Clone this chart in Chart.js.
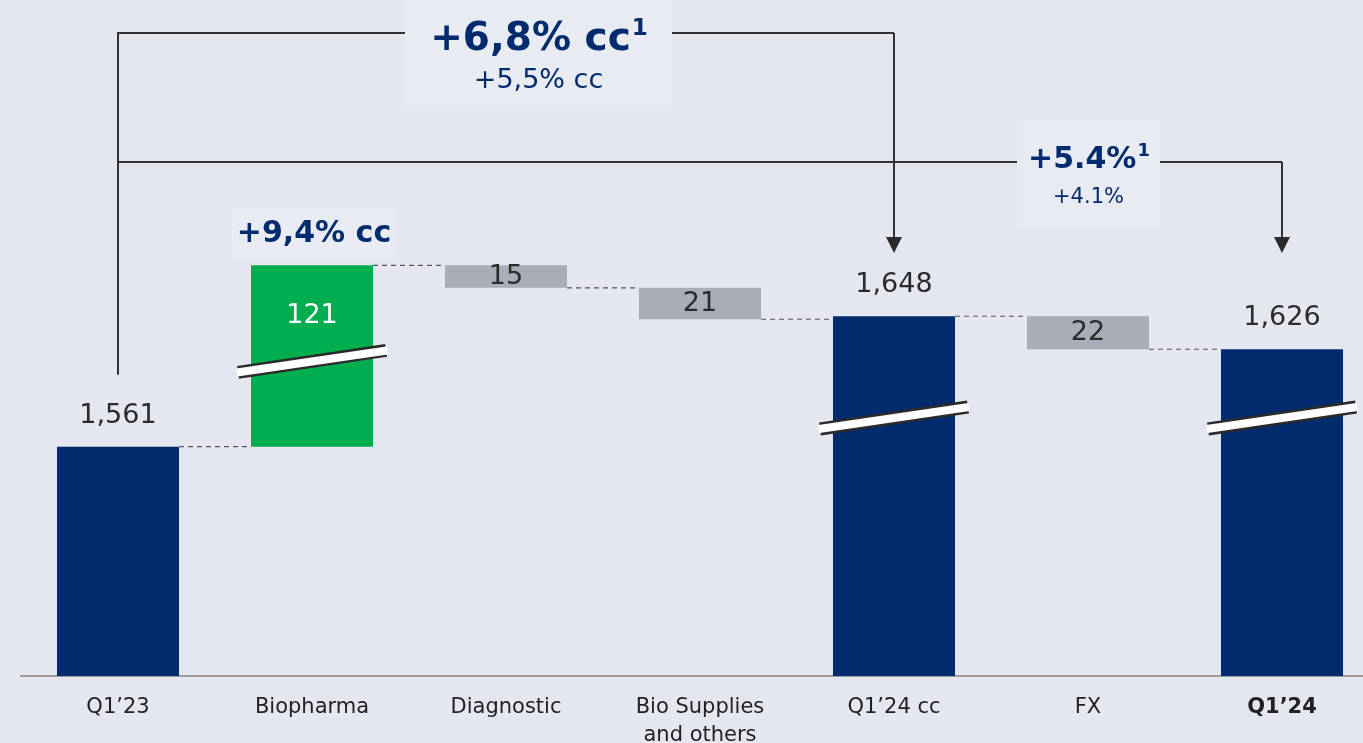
<!DOCTYPE html>
<html lang="en">
<head>
  <meta charset="UTF-8" />
  <title>Revenue bridge Q1'23 - Q1'24</title>
  <script src="https://cdn.jsdelivr.net/npm/chart.js"></script>
  <style>
    html, body {
      margin: 0;
      padding: 0;
      background: #e4e7ef;
      overflow: hidden;
    }
    #wrap {
      width: 1379px;
      height: 743px;
    }
  </style>
</head>
<body>
  <div id="wrap">
    <canvas id="bridge" width="1379" height="743"></canvas>
  </div>

  <script>
    // categories and values
    const categories = ['Q1’23', 'Biopharma', 'Diagnostic', ['Bio Supplies', 'and others'], 'Q1’24 cc', 'FX', 'Q1’24'];
    const values = [1561, 121, -15, -21, 1648, -22, 1626];
    const kinds = ['total', 'up', 'down', 'down', 'total', 'down', 'total'];
    const valueLabels = ['1,561', '121', '15', '21', '1,648', '22', '1,626'];

    const yMin = 1408;
    const yMax = 1859;

    const NAVY = '#022b6d';
    const GREEN = '#00ad4f';
    const GREY = '#a9adb8';
    const TEXT = '#2b2b2b';
    const FONT = '"DejaVu Sans", "Open Sans", sans-serif';

    // floating ranges for the waterfall
    let running = 0;
    const ranges = values.map((v, i) => {
      if (kinds[i] === 'total') {
        running = v;
        return [yMin, v];
      }
      const start = running;
      running = running + v;
      return [start, running];
    });
    const colors = kinds.map(k => k === 'total' ? NAVY : (k === 'up' ? GREEN : GREY));

    function arrowDown(ctx, x, yFrom, yTip) {
      ctx.beginPath();
      ctx.moveTo(x, yFrom);
      ctx.lineTo(x, yTip - 14);
      ctx.stroke();
      ctx.beginPath();
      ctx.moveTo(x - 8, yTip - 16);
      ctx.lineTo(x + 8, yTip - 16);
      ctx.lineTo(x, yTip);
      ctx.closePath();
      ctx.fill();
    }

    function breakMark(ctx, left, right, yMid) {
      const x1 = left - 13, x2 = right + 13;
      const rise = 11;
      ctx.save();
      ctx.lineWidth = 13;
      ctx.strokeStyle = '#2a2a2a';
      ctx.beginPath();
      ctx.moveTo(x1, yMid + rise);
      ctx.lineTo(x2, yMid - rise);
      ctx.stroke();
      ctx.lineWidth = 8;
      ctx.strokeStyle = '#ffffff';
      ctx.beginPath();
      ctx.moveTo(x1 - 1, yMid + rise);
      ctx.lineTo(x2 + 1, yMid - rise);
      ctx.stroke();
      ctx.restore();
    }

    function headBox(ctx, x0, y0, w, h, big, small, bigSize, smallSize, bigY, smallY) {
      ctx.fillStyle = '#e8ebf2';
      ctx.fillRect(x0, y0, w, h);
      const cx = x0 + w / 2;
      ctx.fillStyle = NAVY;
      ctx.textBaseline = 'middle';
      ctx.font = 'bold ' + bigSize + 'px ' + FONT;
      const bw = ctx.measureText(big).width;
      ctx.font = 'bold ' + Math.round(bigSize * 0.6) + 'px ' + FONT;
      const sw = ctx.measureText('1').width;
      const startX = cx - (bw + sw) / 2;
      ctx.textAlign = 'left';
      ctx.font = 'bold ' + bigSize + 'px ' + FONT;
      ctx.fillText(big, startX, bigY);
      ctx.font = 'bold ' + Math.round(bigSize * 0.6) + 'px ' + FONT;
      ctx.fillText('1', startX + bw + 1, bigY - bigSize * 0.28);
      ctx.textAlign = 'center';
      ctx.font = smallSize + 'px ' + FONT;
      ctx.fillText(small, cx, smallY);
    }

    const annotations = {
      id: 'annotations',
      afterDatasetsDraw(chart) {
        const ctx = chart.ctx;
        const meta = chart.getDatasetMeta(0);
        const y = chart.scales.y;
        const bars = meta.data;

        ctx.save();

        // dashed connectors
        ctx.strokeStyle = '#555';
        ctx.lineWidth = 1.2;
        ctx.setLineDash([5, 4]);
        for (let i = 0; i < bars.length - 1; i++) {
          const level = y.getPixelForValue(ranges[i][1]);
          const a = bars[i], b = bars[i + 1];
          ctx.beginPath();
          ctx.moveTo(a.x + a.width / 2, level);
          ctx.lineTo(b.x - b.width / 2, level);
          ctx.stroke();
        }
        ctx.setLineDash([]);

        // break marks
        const bp = bars[1];
        breakMark(ctx, bp.x - bp.width / 2, bp.x + bp.width / 2, bp.y + (bp.base - bp.y) * 0.53);
        [4, 6].forEach(i => {
          const b = bars[i];
          breakMark(ctx, b.x - b.width / 2, b.x + b.width / 2, 418);
        });

        // value labels
        ctx.textAlign = 'center';
        ctx.textBaseline = 'middle';
        ctx.font = '27px ' + FONT;
        const labelY = [];
        bars.forEach((b, i) => {
          let ly;
          if (kinds[i] === 'total') {
            ly = b.y - 31;
            ctx.fillStyle = TEXT;
          } else if (kinds[i] === 'up') {
            ly = b.y + 51;
            ctx.fillStyle = '#ffffff';
          } else {
            ly = (b.y + b.base) / 2;
            ctx.fillStyle = TEXT;
          }
          labelY.push(ly);
          ctx.fillText(valueLabels[i], b.x, ly);
        });

        // growth label over Biopharma
        ctx.fillStyle = '#e8ebf2';
        ctx.fillRect(bp.x - 80, bp.y - 57, 163, 50);
        ctx.fillStyle = NAVY;
        ctx.font = 'bold 30px ' + FONT;
        ctx.fillText('+9,4% cc', bp.x + 2, bp.y - 31);

        // brackets
        const xA = bars[0].x, xB = bars[4].x, xC = bars[6].x;
        const yTop = 33, yMid = 162, tipY = 253;
        ctx.strokeStyle = '#333';
        ctx.fillStyle = '#2a2a2a';
        ctx.lineWidth = 2;
        ctx.beginPath();
        ctx.moveTo(xA, labelY[0] - 41);
        ctx.lineTo(xA, yTop);
        ctx.lineTo(xB, yTop);
        ctx.stroke();
        arrowDown(ctx, xB, yTop, tipY);
        ctx.beginPath();
        ctx.moveTo(xA, yMid);
        ctx.lineTo(xC, yMid);
        ctx.stroke();
        arrowDown(ctx, xC, yMid, tipY);

        headBox(ctx, 405, 0, 267, 105, '+6,8% cc', '+5,5% cc', 39, 27, 40, 81);
        headBox(ctx, 1017, 120, 143, 108, '+5.4%', '+4.1%', 30, 21, 160, 198);

        ctx.restore();
      }
    };

    new Chart(document.getElementById('bridge'), {
      type: 'bar',
      data: {
        labels: categories,
        datasets: [{
          data: ranges,
          backgroundColor: colors,
          borderWidth: 0,
          barPercentage: 0.629,
          categoryPercentage: 1
        }]
      },
      options: {
        responsive: false,
        animation: false,
        layout: { padding: { left: 21, right: 0, top: 0, bottom: 0 } },
        plugins: {
          legend: { display: false },
          tooltip: { enabled: false }
        },
        scales: {
          x: {
            grid: { display: false, drawTicks: false },
            border: { display: true, color: '#9f9a9a', width: 2 },
            ticks: {
              color: '#222',
              padding: 17,
              font: (c) => ({ family: FONT, size: 21, weight: c.index === 6 ? 'bold' : 'normal', lineHeight: 1.35 }),
              maxRotation: 0
            },
            afterFit: (s) => { s.height = 67; }
          },
          y: {
            display: false,
            min: yMin,
            max: yMax
          }
        }
      },
      plugins: [annotations]
    });
  </script>
</body>
</html>
